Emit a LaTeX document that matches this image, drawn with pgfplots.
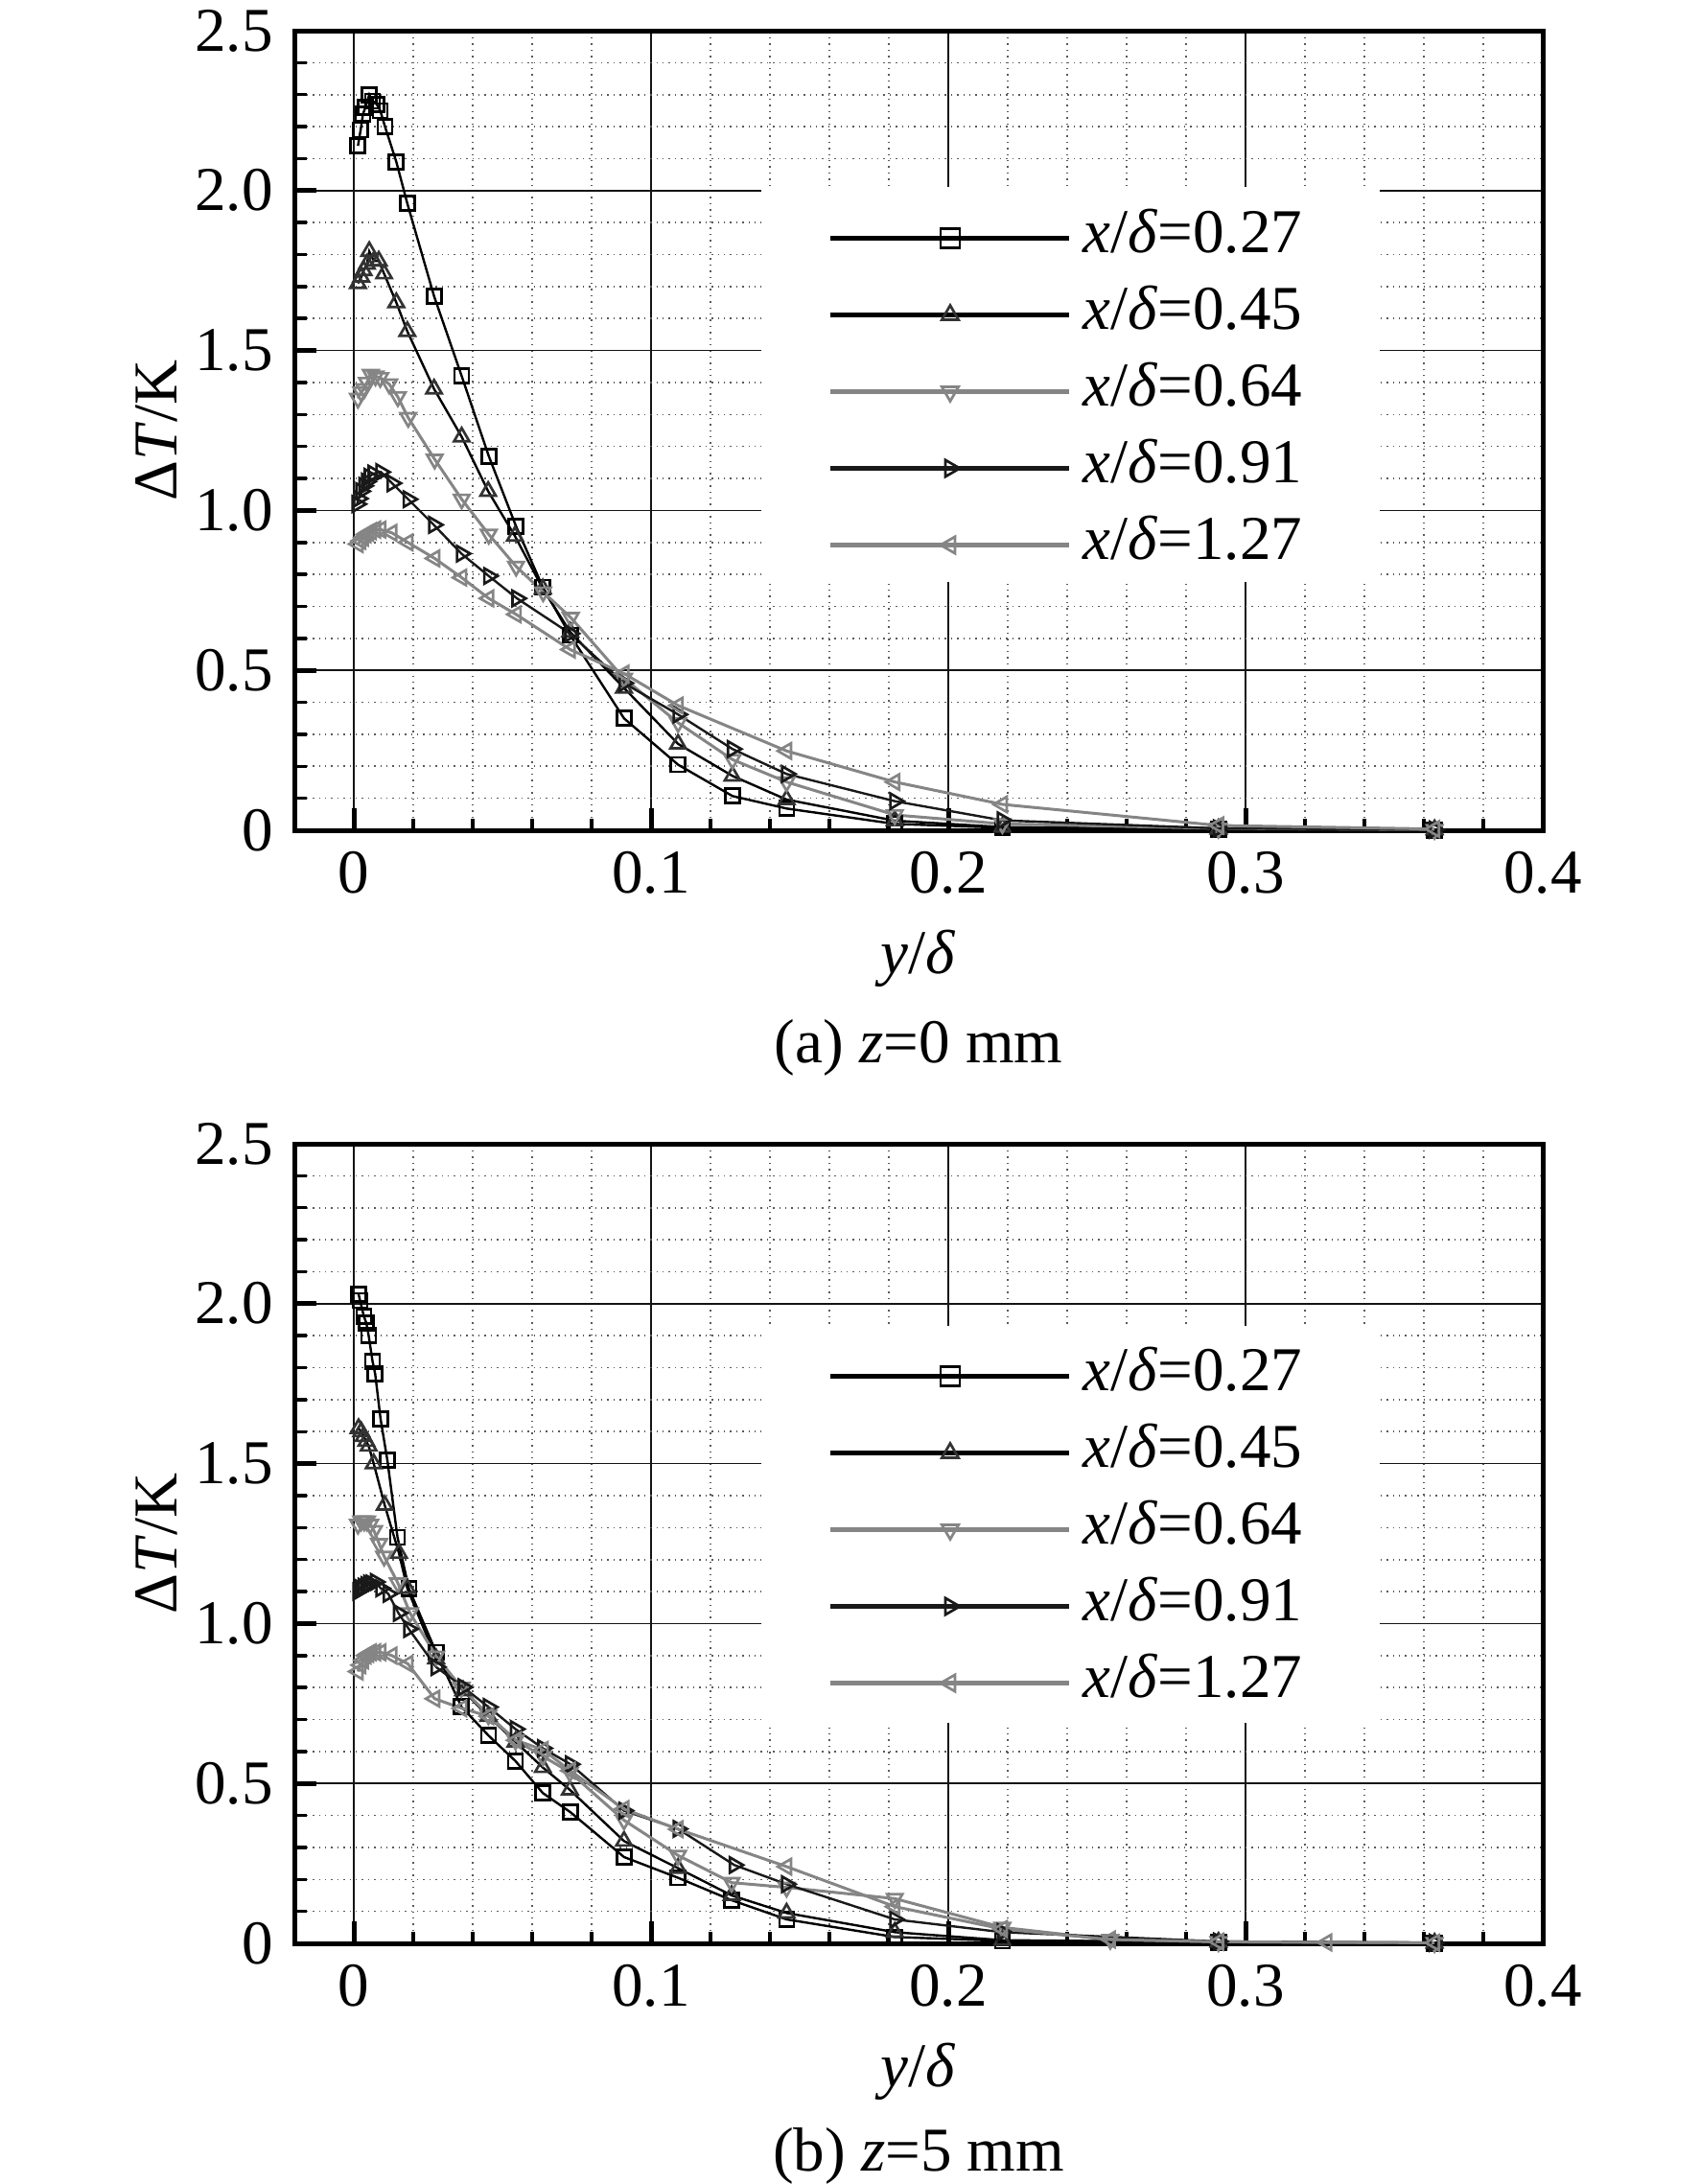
\documentclass[border=0pt]{standalone}
\usepackage{fontspec}
\setmainfont{Liberation Serif}
\usepackage{pgfplots}
\pgfplotsset{compat=1.18}
\definecolor{gB}{gray}{0.2}
\definecolor{gC}{gray}{0.52}
\pgfplotsset{
 myaxis/.style={
  scale only axis, width=130.2mm, height=83.4mm,
  xmin=-0.02, xmax=0.4, ymin=0, ymax=2.5,
  xtick={0,0.1,0.2,0.3,0.4}, xticklabels={0,0.1,0.2,0.3,0.4},
  ytick={0,0.5,1,1.5,2,2.5}, yticklabels={0,0.5,1.0,1.5,2.0,2.5},
  minor x tick num=4, minor y tick num=4,
  tick align=inside, xtick pos=bottom, ytick pos=left,
  major tick length=2.3mm, minor tick length=1.25mm,
  major tick style={line width=0.5mm, black},
  minor tick style={line width=0.35mm, black},
  grid=both,
  major grid style={line width=0.15mm, black!92, solid},
  minor grid style={line width=0.16mm, black!65, dash pattern=on 0.14mm off 0.5mm},
  axis line style={line width=0.5mm},
  xlabel={\textit{y}/\textit{δ}}, ylabel={Δ\textit{T}/K},
  xlabel style={at={(axis description cs:0.5,-0.161)}, anchor=center},
  ylabel style={at={(axis description cs:-0.1106,0.5)}, anchor=center},
  legend cell align=left,
  legend image code/.code={\draw[mark repeat=2,mark phase=2,##1,line width=0.42mm,mark size=1.0mm] plot coordinates {(0mm,0mm) (12.45mm,0mm) (24.9mm,0mm)};},
  legend style={draw=none, fill=none, inner sep=0pt, outer sep=0pt, anchor=north west, row sep=1.8mm,
    nodes={inner sep=0pt, text height=4.6mm, text depth=1.6mm},
    /tikz/every odd column/.append style={column sep=1.2mm}},
 },
 s1/.style={black, line width=0.24mm, mark=square, mark size=0.75mm, mark options={solid, black, line width=0.27mm}},
 s2/.style={black, line width=0.24mm, mark=triangle, mark size=0.92mm, mark options={solid, gB, line width=0.27mm}},
 s3/.style={gC, line width=0.3mm, mark=triangle, mark size=0.92mm, mark options={solid, gC, rotate=180, line width=0.27mm}},
 s4/.style={black!90, line width=0.24mm, mark=triangle, mark size=0.92mm, mark options={solid, black!90, rotate=-90, line width=0.27mm}},
 s5/.style={gC, line width=0.3mm, mark=triangle, mark size=0.92mm, mark options={solid, gC, rotate=90, line width=0.27mm}},
}
\begin{document}
\fontsize{18.5pt}{22pt}\selectfont
\begin{tikzpicture}
\path[use as bounding box] (0,0) rectangle (177.2mm,-227.8mm);
% ---------------- (a) ----------------
\begin{axis}[myaxis, at={(30.7mm,-86.6mm)}, anchor=south west,
  legend style={at={(axis cs:0.1598,1.944)}},
  extra description/.code={\node at (0.5,-0.2725) {(a) \textit{z}=0 mm};}]
\fill[white] (axis cs:0.137,0.775) rectangle (axis cs:0.345,2.01);
\addplot[s1] coordinates {(0.0014,2.14) (0.0023,2.19) (0.0031,2.24) (0.0039,2.26) (0.0052,2.30) (0.0063,2.28) (0.0077,2.27) (0.0089,2.25) (0.0105,2.20) (0.0143,2.09) (0.0180,1.96) (0.0270,1.67) (0.0363,1.42) (0.0454,1.17) (0.0546,0.95) (0.0636,0.76) (0.0728,0.61) (0.0909,0.35) (0.1091,0.205) (0.1274,0.107) (0.1456,0.068) (0.1820,0.02) (0.2182,0.008) (0.2909,0.003) (0.3636,0.001)};
\addlegendentry{\textit{x}/\textit{δ}=0.27}
\addplot[s2] coordinates {(0.0014,1.71) (0.0025,1.73) (0.0033,1.75) (0.0044,1.77) (0.0052,1.81) (0.0068,1.78) (0.0084,1.78) (0.0102,1.74) (0.0143,1.65) (0.0180,1.56) (0.0270,1.38) (0.0363,1.23) (0.0452,1.06) (0.0542,0.92) (0.0636,0.755) (0.0728,0.62) (0.0909,0.445) (0.1091,0.27) (0.1274,0.17) (0.1456,0.096) (0.1820,0.03) (0.2182,0.01) (0.2909,0.004) (0.3636,0.002)};
\addlegendentry{\textit{x}/\textit{δ}=0.45}
\addplot[s3] coordinates {(0.0014,1.35) (0.0025,1.37) (0.0035,1.38) (0.0044,1.40) (0.0057,1.425) (0.0073,1.42) (0.0089,1.415) (0.0119,1.395) (0.0148,1.355) (0.0183,1.29) (0.0272,1.16) (0.0363,1.035) (0.0454,0.925) (0.0546,0.825) (0.0637,0.745) (0.0730,0.665) (0.0909,0.475) (0.1091,0.336) (0.1274,0.221) (0.1456,0.151) (0.1820,0.048) (0.2182,0.02) (0.2909,0.006) (0.3636,0.002)};
\addlegendentry{\textit{x}/\textit{δ}=0.64}
\addplot[s4] coordinates {(0.0011,1.02) (0.0016,1.037) (0.0024,1.06) (0.0034,1.077) (0.0043,1.09) (0.0052,1.105) (0.0065,1.115) (0.0091,1.12) (0.0129,1.085) (0.0183,1.035) (0.0269,0.955) (0.0362,0.865) (0.0454,0.795) (0.0549,0.725) (0.0728,0.615) (0.0909,0.46) (0.1091,0.362) (0.1274,0.254) (0.1456,0.176) (0.1820,0.091) (0.2182,0.031) (0.2909,0.006) (0.3636,0.002)};
\addlegendentry{\textit{x}/\textit{δ}=0.91}
\addplot[s5] coordinates {(0.0014,0.895) (0.0023,0.905) (0.0032,0.915) (0.0041,0.925) (0.0050,0.93) (0.0059,0.935) (0.0073,0.94) (0.0091,0.94) (0.0128,0.93) (0.0182,0.90) (0.0272,0.85) (0.0363,0.79) (0.0454,0.725) (0.0546,0.675) (0.0728,0.565) (0.0909,0.49) (0.1091,0.39) (0.1456,0.248) (0.1820,0.151) (0.2182,0.081) (0.2909,0.015) (0.3636,0.004)};
\addlegendentry{\textit{x}/\textit{δ}=1.27}
\end{axis}
% ---------------- (b) ----------------
\begin{axis}[myaxis, at={(30.7mm,-202.7mm)}, anchor=south west,
  legend style={at={(axis cs:0.1598,1.866)}},
  extra description/.code={\node at (0.5,-0.2665) {(b) \textit{z}=5 mm};}]
\fill[white] (axis cs:0.137,0.69) rectangle (axis cs:0.345,1.93);
\addplot[s1] coordinates {(0.0016,2.03) (0.0021,2.01) (0.0034,1.96) (0.0042,1.94) (0.0050,1.90) (0.0063,1.82) (0.0072,1.78) (0.0090,1.64) (0.0113,1.51) (0.0147,1.27) (0.0185,1.11) (0.0277,0.91) (0.0362,0.74) (0.0453,0.65) (0.0544,0.57) (0.0636,0.47) (0.0729,0.41) (0.0909,0.27) (0.1091,0.205) (0.1271,0.135) (0.1456,0.075) (0.1820,0.02) (0.2182,0.008) (0.2909,0.004) (0.3636,0.001)};
\addlegendentry{\textit{x}/\textit{δ}=0.27}
\addplot[s2] coordinates {(0.0016,1.61) (0.0025,1.60) (0.0033,1.585) (0.0042,1.57) (0.0050,1.555) (0.0067,1.50) (0.0104,1.37) (0.0152,1.22) (0.0180,1.11) (0.0277,0.89) (0.0368,0.79) (0.0453,0.71) (0.0544,0.63) (0.0636,0.55) (0.0727,0.48) (0.0909,0.32) (0.1091,0.235) (0.1271,0.15) (0.1456,0.095) (0.1820,0.035) (0.2182,0.01) (0.2909,0.004) (0.3636,0.001)};
\addlegendentry{\textit{x}/\textit{δ}=0.45}
\addplot[s3] coordinates {(0.0014,1.31) (0.0025,1.32) (0.0035,1.32) (0.0044,1.32) (0.0055,1.31) (0.0068,1.29) (0.0085,1.25) (0.0102,1.21) (0.0148,1.127) (0.0189,1.033) (0.0277,0.898) (0.0362,0.80) (0.0453,0.714) (0.0544,0.635) (0.0636,0.585) (0.0727,0.535) (0.0909,0.385) (0.1091,0.275) (0.1271,0.19) (0.1456,0.175) (0.1820,0.14) (0.2182,0.05) (0.2545,0.012) (0.2909,0.005) (0.3636,0.002)};
\addlegendentry{\textit{x}/\textit{δ}=0.64}
\addplot[s4] coordinates {(0.0014,1.10) (0.0023,1.11) (0.0032,1.115) (0.0041,1.12) (0.0050,1.125) (0.0059,1.125) (0.0073,1.13) (0.0091,1.11) (0.0116,1.093) (0.0150,1.033) (0.0185,0.983) (0.0277,0.864) (0.0368,0.801) (0.0453,0.739) (0.0544,0.67) (0.0636,0.61) (0.0729,0.56) (0.0909,0.415) (0.1091,0.358) (0.1280,0.245) (0.1456,0.185) (0.1820,0.075) (0.2182,0.035) (0.2909,0.006) (0.3636,0.002)};
\addlegendentry{\textit{x}/\textit{δ}=0.91}
\addplot[s5] coordinates {(0.0014,0.85) (0.0023,0.87) (0.0032,0.885) (0.0041,0.90) (0.0050,0.905) (0.0059,0.91) (0.0073,0.91) (0.0091,0.91) (0.0128,0.90) (0.0182,0.874) (0.0272,0.765) (0.0363,0.735) (0.0454,0.71) (0.0546,0.635) (0.0637,0.605) (0.0728,0.54) (0.0909,0.42) (0.1091,0.357) (0.1456,0.24) (0.1820,0.115) (0.2182,0.045) (0.2545,0.012) (0.2909,0.005) (0.3273,0.003) (0.3636,0.002)};
\addlegendentry{\textit{x}/\textit{δ}=1.27}
\end{axis}
\end{tikzpicture}
\end{document}
